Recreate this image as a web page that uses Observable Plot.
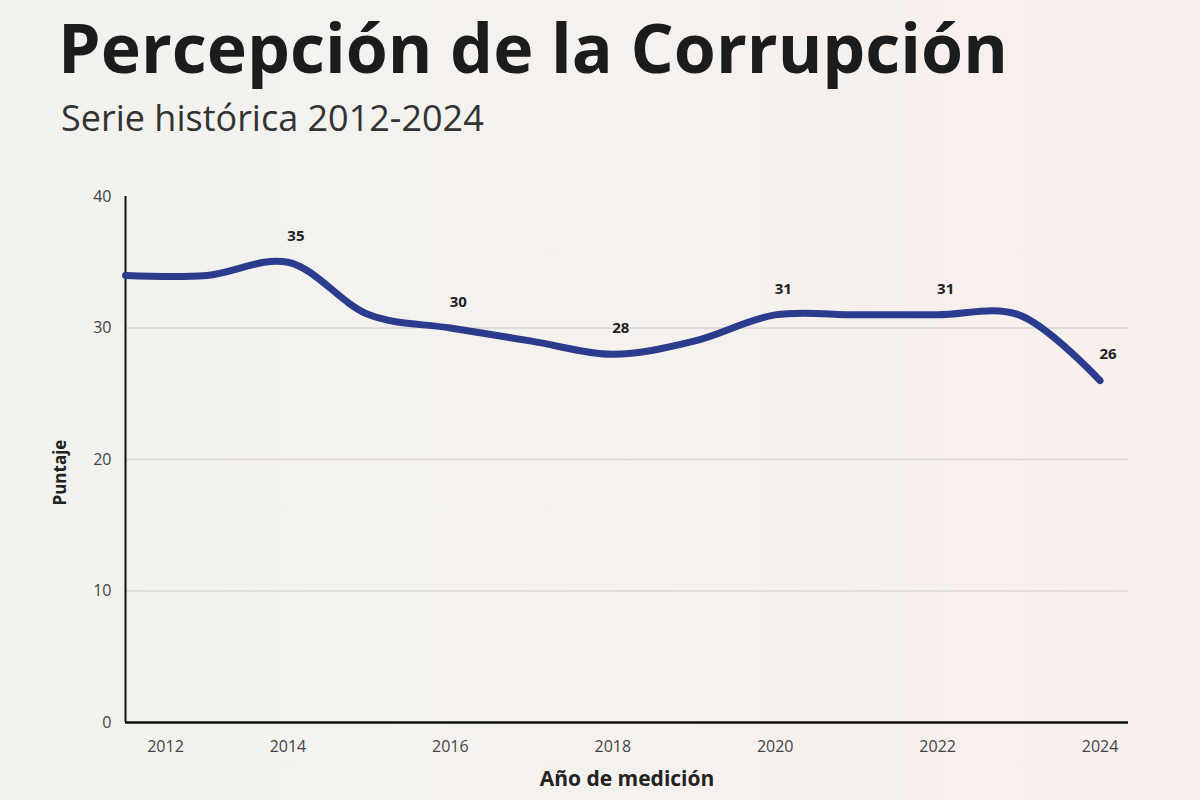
<!DOCTYPE html>
<html>
<head>
<meta charset="utf-8">
<script src="https://cdn.jsdelivr.net/npm/d3@7"></script>
<script src="https://cdn.jsdelivr.net/npm/@observablehq/plot@0.6"></script>
<style>
  html, body { margin: 0; padding: 0; width: 1200px; height: 800px; overflow: hidden; }
  body {
    position: relative;
    font-family: "Open Sans", sans-serif;
    background: linear-gradient(90deg, #f1f1ed 0%, #f4f2ee 35%, #f8efec 100%);
  }
  #title {
    position: absolute; left: 58px; top: 0px; margin: 0;
    font-size: 68px; font-weight: 700; line-height: normal; color: #1c1c1c;
  }
  #subtitle {
    position: absolute; left: 61px; top: 93px; margin: 0;
    font-size: 36px; font-weight: 400; line-height: normal; color: #333;
  }
  #chart { position: absolute; left: 0; top: 170px; }
  #chart svg { background: transparent; }
  #chart [aria-label="x-axis label"] text,
  #chart text[aria-label="x-axis label"] {
    font-weight: 700; font-size: 21px; fill: #222;
  }
</style>
</head>
<body>
<h1 id="title">Percepción de la Corrupción</h1>
<div id="subtitle">Serie histórica 2012-2024</div>
<div id="chart"></div>
<script>
// Data
const years = [2012, 2013, 2014, 2015, 2016, 2017, 2018, 2019, 2020, 2021, 2022, 2023, 2024];
const scores = [34, 34, 35, 31, 30, 29, 28, 29, 31, 31, 31, 31, 26];
const labeledYears = [2014, 2016, 2018, 2020, 2022, 2024];
const xTickYears = [2012, 2014, 2016, 2018, 2020, 2022, 2024];
const yTicks = [0, 10, 20, 30, 40];
const gridValues = [10, 20, 30];
const xLabel = "Año de medición";
const yLabel = "Puntaje";

const data = years.map((year, i) => ({year, score: scores[i]}));
const labeled = data.filter(d => labeledYears.includes(d.year));

const chart = Plot.plot({
  width: 1200,
  height: 630,
  marginLeft: 125,
  marginRight: 72,
  marginTop: 26,
  marginBottom: 78,
  x: {domain: [2012, 2024.35]},
  y: {domain: [0, 40]},
  style: {fontFamily: "Open Sans", fontSize: "16px", color: "#444", background: "transparent"},
  marks: [
    Plot.ruleY(gridValues, {stroke: "#d9d6d2", strokeWidth: 1.5}),
    Plot.ruleX([2012], {y1: 0, y2: 40, stroke: "#111", strokeWidth: 2}),
    Plot.ruleY([0], {stroke: "#111", strokeWidth: 2.5}),
    Plot.axisY(yTicks, {tickSize: 0, tickPadding: 14, tickFormat: "d", label: null}),
    Plot.text([yLabel], {
      frameAnchor: "left", rotate: -90, dx: -65, dy: 46,
      fontWeight: "bold", fontSize: 17, fill: "#222"
    }),
    Plot.axisX([xTickYears[0]], {tickSize: 0, tickPadding: 18, tickFormat: "d", dx: 40, label: null}),
    Plot.axisX(xTickYears.slice(1), {
      tickSize: 0, tickPadding: 18, tickFormat: "d",
      label: xLabel, labelAnchor: "center", labelOffset: 63, labelArrow: "none"
    }),
    Plot.line(data, {
      x: "year", y: "score", curve: "catmull-rom",
      stroke: "#2b3b8d", strokeWidth: 7, strokeLinecap: "round", strokeLinejoin: "round"
    }),
    Plot.text(labeled, {
      x: "year", y: "score", text: d => String(d.score),
      dy: -26, dx: 8, fontWeight: "bold", fontSize: 15, fill: "#222"
    })
  ]
});
document.getElementById("chart").appendChild(chart);
</script>
</body>
</html>
